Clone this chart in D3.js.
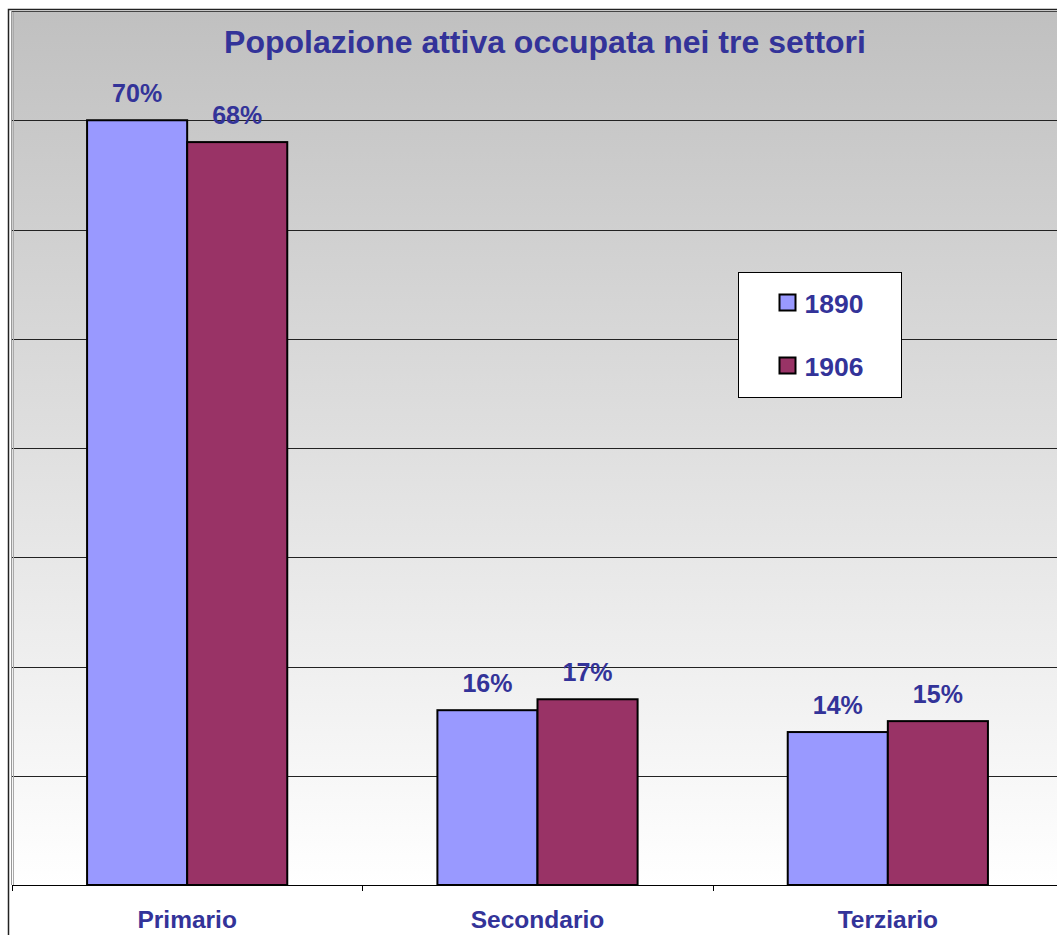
<!DOCTYPE html>
<html>
<head>
<meta charset="utf-8">
<script src="https://cdn.jsdelivr.net/npm/d3@7"></script>
<style>
  body { margin: 0; background: #ffffff; }
  svg { display: block; }
  text { font-family: "Liberation Sans", Arial, sans-serif; font-weight: bold; fill: #333399; }
</style>
</head>
<body>
<div id="chart"></div>
<script>
const categories = ["Primario", "Secondario", "Terziario"];
const seriesNames = ["1890", "1906"];
const values1890 = [70, 16, 14];
const values1906 = [68, 17, 15];
const yTicks = [0, 10, 20, 30, 40, 50, 60, 70, 80];
const seriesColors = ["#9999ff", "#993366"];

const width = 1057, height = 935;
const plot = { left: 12, top: 11, right: 1063, bottom: 885 };

const svg = d3.select("#chart").append("svg")
    .attr("width", width)
    .attr("height", height);

// background gradient of the plot area
const defs = svg.append("defs");
const grad = defs.append("linearGradient")
    .attr("id", "bg-grad")
    .attr("x1", "0%").attr("x2", "0%")
    .attr("y1", "0%").attr("y2", "100%");
grad.append("stop").attr("offset", "0%").attr("stop-color", "#c0c0c0");
grad.append("stop").attr("offset", "100%").attr("stop-color", "#ffffff");

// outer chart frame
svg.append("path")
    .attr("d", `M8.5,${height} V9.5 H${width}`)
    .attr("fill", "none")
    .attr("stroke", "#222")
    .attr("stroke-width", 1.5);

svg.append("rect")
    .attr("x", plot.left)
    .attr("y", plot.top)
    .attr("width", plot.right - plot.left)
    .attr("height", plot.bottom - plot.top)
    .attr("fill", "url(#bg-grad)");

const x0 = d3.scaleBand()
    .domain(categories)
    .range([plot.left, plot.right])
    .paddingInner(0)
    .paddingOuter(0);

const x1 = d3.scaleBand()
    .domain(seriesNames)
    .range([0, x0.bandwidth()])
    .paddingOuter(0.75)
    .paddingInner(0);

const y = d3.scaleLinear()
    .domain([0, 80])
    .range([plot.bottom, plot.top]);

// gridlines
svg.append("g")
    .selectAll("line")
    .data(yTicks.slice(1, -1))
    .join("line")
    .attr("x1", plot.left)
    .attr("x2", plot.right)
    .attr("y1", d => Math.round(y(d)) + 0.5)
    .attr("y2", d => Math.round(y(d)) + 0.5)
    .attr("stroke", "#222")
    .attr("stroke-width", 1);

// plot area left edge (gray double line)
svg.append("line")
    .attr("x1", plot.left - 0.5).attr("x2", plot.left - 0.5)
    .attr("y1", plot.top).attr("y2", plot.bottom)
    .attr("stroke", "#999").attr("stroke-width", 1);
svg.append("line")
    .attr("x1", plot.left + 1.5).attr("x2", plot.left + 1.5)
    .attr("y1", plot.top).attr("y2", plot.bottom)
    .attr("stroke", "#aaa").attr("stroke-width", 1);

// plot top edge
svg.append("line")
    .attr("x1", plot.left).attr("x2", plot.right)
    .attr("y1", plot.top + 0.5).attr("y2", plot.top + 0.5)
    .attr("stroke", "#444").attr("stroke-width", 1);

const data = categories.map((c, i) => ({
    category: c,
    values: [
        { key: "1890", value: values1890[i], color: seriesColors[0] },
        { key: "1906", value: values1906[i], color: seriesColors[1] }
    ]
}));

const groups = svg.append("g")
    .selectAll("g")
    .data(data)
    .join("g")
    .attr("transform", d => `translate(${x0(d.category)},0)`);

groups.selectAll("rect")
    .data(d => d.values)
    .join("rect")
    .attr("x", d => x1(d.key))
    .attr("y", d => y(d.value))
    .attr("width", x1.bandwidth())
    .attr("height", d => y(0) - y(d.value))
    .attr("fill", d => d.color)
    .attr("stroke", "#000")
    .attr("stroke-width", 2);

groups.selectAll("text.val")
    .data(d => d.values)
    .join("text")
    .attr("class", "val")
    .attr("x", d => x1(d.key) + x1.bandwidth() / 2)
    .attr("y", d => y(d.value) - 18)
    .attr("text-anchor", "middle")
    .style("font-size", "25px")
    .text(d => d.value + "%");

// x axis
svg.append("line")
    .attr("x1", plot.left).attr("x2", plot.right)
    .attr("y1", plot.bottom + 0.5).attr("y2", plot.bottom + 0.5)
    .attr("stroke", "#000").attr("stroke-width", 1);

svg.append("g")
    .selectAll("line")
    .data(categories)
    .join("line")
    .attr("x1", d => Math.round(x0(d)) + 0.5)
    .attr("x2", d => Math.round(x0(d)) + 0.5)
    .attr("y1", plot.bottom)
    .attr("y2", plot.bottom + 6)
    .attr("stroke", "#000");

svg.append("g")
    .selectAll("text")
    .data(categories)
    .join("text")
    .attr("x", d => x0(d) + x0.bandwidth() / 2)
    .attr("y", 928)
    .attr("text-anchor", "middle")
    .style("font-size", "24.5px")
    .text(d => d);

// title
svg.append("text")
    .attr("x", 545)
    .attr("y", 53)
    .attr("text-anchor", "middle")
    .style("font-size", "32px")
    .text("Popolazione attiva occupata nei tre settori");

// legend
const legend = svg.append("g").attr("transform", "translate(738.5,272.5)");
legend.append("rect")
    .attr("width", 163)
    .attr("height", 125)
    .attr("fill", "#fff")
    .attr("stroke", "#000")
    .attr("stroke-width", 1);

const items = legend.selectAll("g")
    .data(seriesNames)
    .join("g")
    .attr("transform", (d, i) => `translate(0,${22 + i * 63})`);

items.append("rect")
    .attr("x", 41)
    .attr("y", 0)
    .attr("width", 16)
    .attr("height", 16)
    .attr("fill", (d, i) => seriesColors[i])
    .attr("stroke", "#000")
    .attr("stroke-width", 2);

items.append("text")
    .attr("x", 66)
    .attr("y", 18)
    .style("font-size", "26.5px")
    .text(d => d);
</script>
</body>
</html>
